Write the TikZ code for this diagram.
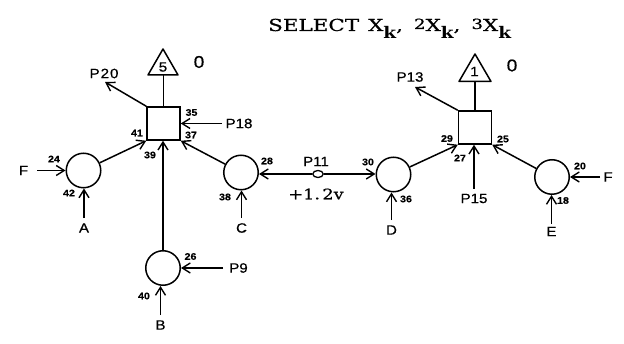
\documentclass[tikz,border=0pt]{standalone}
\usepackage{fontspec}
\setmainfont{Liberation Sans}
\newfontfamily\lett[FakeStretch=1.12,FakeBold=0.5]{Liberation Sans}
\newfontfamily\slab[FakeStretch=1.3,FakeBold=0.6]{DejaVu Serif}
\newfontfamily\slabv[FakeStretch=1.22,FakeBold=0.6]{DejaVu Serif}
\newfontfamily\slabk[FakeStretch=1.15]{DejaVu Serif Bold}
\usetikzlibrary{arrows.meta,shapes.geometric}
\tikzset{
  x=1pt,y=-1pt,
  line/.style={line width=1.5pt,black},
  arr/.style={line,-{Straight Barb[length=8pt,width=10pt,line width=1.4pt]}},
  gate/.style={circle,draw,line width=1.5pt,minimum size=34.5pt,inner sep=0pt},
  sq/.style={rectangle,draw,line width=1.5pt,minimum size=33pt,inner sep=0pt},
  lab/.style={font=\lett\fontsize{13.5}{13.5}\selectfont,inner sep=0pt},
  pin/.style={font=\lett\bfseries\fontsize{9.5}{9.5}\selectfont,inner sep=0pt},
  big/.style={font=\lett\fontsize{17}{17}\selectfont,inner sep=0pt},
}
\newcommand{\subk}{\raisebox{-8pt}{\slabk\fontsize{16}{16}\selectfont k}}
\newcommand{\updig}[1]{\raisebox{2pt}{\fontsize{14}{14}\selectfont #1}}
\begin{document}
\begin{tikzpicture}
\path[use as bounding box] (0,0) rectangle (624,344);
% title
\node[font=\slab\fontsize{16.5}{16.5}\selectfont,anchor=base west,inner sep=0pt] (title) at (268,31)
  {SELECT\hspace{9pt}X\subk,\hspace{11pt}\updig{2}X\subk,\hspace{11pt}\updig{3}X\subk};
% main nodes
\node[sq] (s1) at (163.5,123.5) {};
\node[sq] (s2) at (475,127.5) {};
\node[gate] (ca) at (83.5,170.5) {};
\node[gate] (cc) at (241,172.5) {};
\node[gate] (cb) at (163,268) {};
\node[gate] (cd) at (393.5,174.5) {};
\node[gate] (ce) at (552,177) {};
% triangles
\coordinate (t1a) at (163,49); \coordinate (t1l) at (148,75); \coordinate (t1r) at (178,75);
\coordinate (t2a) at (475,54); \coordinate (t2l) at (459,81.5); \coordinate (t2r) at (491,81.5);
\draw[line,line join=round] (t1a) -- (t1l) -- (t1r) -- cycle;
\draw[line,line join=round] (t2a) -- (t2l) -- (t2r) -- cycle;
\node[lab] (n5) at (163,67) {5};
\node[lab] (n1) at (474.5,71.5) {1};
\node[big] (z1) at (199,62) {0};
\node[big] (z2) at (512,65.5) {0};
\coordinate (t1b) at (163.5,75); \coordinate (t2b) at (475,81.5);
\draw[line] (s1.north) -- (t1b);
\draw[line] (s2.north) -- (t2b);
% labels and free ends
\node[lab] (P20) at (104,73.5) {P\kern1pt 2\kern1pt 0};
\node[lab] (P13) at (410,77) {P13};
\node[lab] (P18) at (239,123.5) {P18};
\node[lab] (P15) at (474,198.5) {P15};
\node[lab] (P9) at (238.5,268) {P9};
\node[lab] (P11) at (316,161.5) {P11};
\node[font=\slabv\fontsize{14.5}{14.5}\selectfont,inner sep=0pt] (v) at (316,194) {+1.\,2v};
\node[lab] (Fa) at (23.5,170.5) {F};
\node[lab] (Fe) at (608,177) {F};
\node[lab] (A) at (84,228) {A};
\node[lab] (B) at (160.5,325) {B};
\node[lab] (C) at (241.5,228) {C};
\node[lab] (D) at (391.5,230) {D};
\node[lab] (E) at (551.5,231.5) {E};
% connectors
\coordinate (e20) at (105,82);
\coordinate (e13) at (415,87);
\draw[arr] (s1.north west) -- (e20);
\draw[arr] (s2.north west) -- (e13);
\draw[arr] ([xshift=-3.5pt]P18.west) -- (s1.east);
\draw[arr] (ca) -- (s1.south west);
\draw[arr] (cc) -- (s1.south east);
\draw[arr] (cb.north) -- (s1.south -| cb.north);
\draw[arr] (cd) -- (s2.south west);
\draw[arr] (ce) -- (s2.south east);
\draw[arr] ([yshift=5pt]P15.north) -- (P15.north |- s2.south);
\draw[arr] ([xshift=9pt]Fa.east) -- (ca.west);
\draw[arr] ([xshift=-3pt]Fe.west) -- (ce.east);
\draw[arr] ([yshift=5pt]A.north) -- (A.north |- ca.south);
\draw[arr] ([yshift=5pt]B.north) -- (B.north |- cb.south);
\draw[arr] ([xshift=-6pt]P9.west) -- (cb.east);
\draw[arr] ([yshift=5pt]C.north) -- (C.north |- cc.south);
\draw[arr] ([yshift=5pt]D.north) -- (D.north |- cd.south);
\draw[arr] ([yshift=3pt]E.north) -- (E.north |- ce.south);
\node[ellipse,draw,line width=1.3pt,fill=white,minimum width=10.5pt,minimum height=7pt,inner sep=0pt] (pt) at (318,174) {};
\draw[arr] (pt) -- (pt -| cc.east);
\draw[arr] (pt) -- (pt -| cd.west);
% pin numbers
\node[pin] at (191.5,112.5) {35};
\node[pin] at (191,135) {37};
\node[pin] at (137,133) {41};
\node[pin] at (150,155) {39};
\node[pin] at (54,159) {24};
\node[pin] at (69,193) {42};
\node[pin] at (267,161) {28};
\node[pin] at (225,197) {38};
\node[pin] at (368,162) {30};
\node[pin] at (406,199) {36};
\node[pin] at (447,138.5) {29};
\node[pin] at (503,139) {25};
\node[pin] at (460,158) {27};
\node[pin] at (580,166) {20};
\node[pin] at (563,200.5) {18};
\node[pin] at (190.5,256.5) {26};
\node[pin] at (144,296) {40};
\end{tikzpicture}
\end{document}
